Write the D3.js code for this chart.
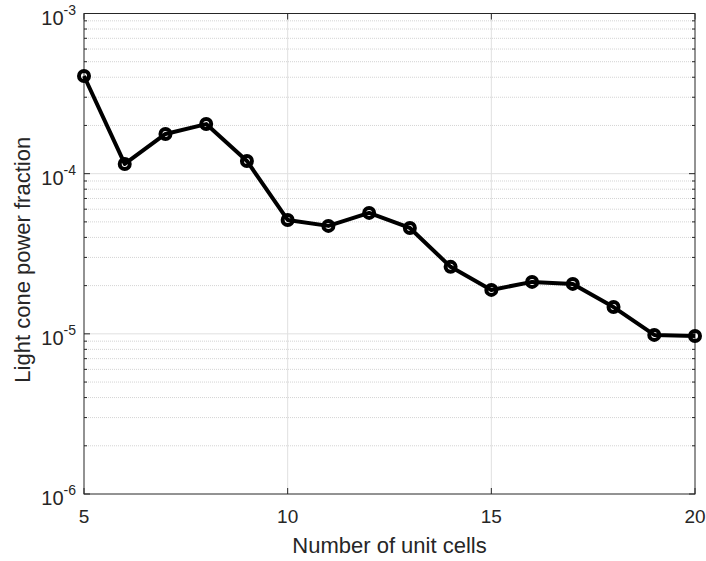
<!DOCTYPE html>
<html>
<head>
<meta charset="utf-8">
<script src="https://cdn.jsdelivr.net/npm/d3@7"></script>
<style>
body { margin: 0; background: #fff; }
svg { font-family: "Liberation Sans", Arial, sans-serif; }
</style>
</head>
<body>
<svg width="706" height="561"></svg>
<script>
// data
var cells = [5, 6, 7, 8, 9, 10, 11, 12, 13, 14, 15, 16, 17, 18, 19, 20];
var fraction = [4.07e-4, 1.15e-4, 1.77e-4, 2.04e-4, 1.20e-4, 5.14e-5, 4.72e-5, 5.69e-5,
                4.58e-5, 2.62e-5, 1.88e-5, 2.11e-5, 2.05e-5, 1.47e-5, 9.85e-6, 9.7e-6];
var xTicks = [5, 10, 15, 20];
var yExps = [-3, -4, -5, -6];

var svg = d3.select('svg');
var pLeft = 84, pRight = 695, pTop = 13.5, pBottom = 494;

var xScale = d3.scaleLinear().domain([5, 20]).range([pLeft, pRight]);
var yScale = d3.scaleLog().domain([1e-6, 1e-3]).range([pBottom, pTop]);

var chartG = svg.append('g');

// minor grid (dotted)
var minors = [];
[-6, -5, -4].forEach(function(e) {
    for (var k = 2; k <= 9; k++) minors.push(k * Math.pow(10, e));
});
chartG.selectAll('.minor')
    .data(minors)
    .enter().append('line')
    .attr('x1', pLeft).attr('x2', pRight)
    .attr('y1', function(d) { return yScale(d); })
    .attr('y2', function(d) { return yScale(d); })
    .style('stroke', '#d4d4d4')
    .style('stroke-width', 1)
    .style('stroke-dasharray', '1,1');

// major grid
chartG.selectAll('.gx')
    .data(xTicks.slice(1, 3))
    .enter().append('line')
    .attr('x1', function(d) { return xScale(d); })
    .attr('x2', function(d) { return xScale(d); })
    .attr('y1', pTop).attr('y2', pBottom)
    .style('stroke', '#e0e0e0');
chartG.selectAll('.gy')
    .data([-5, -4])
    .enter().append('line')
    .attr('x1', pLeft).attr('x2', pRight)
    .attr('y1', function(d) { return yScale(Math.pow(10, d)); })
    .attr('y2', function(d) { return yScale(Math.pow(10, d)); })
    .style('stroke', '#e0e0e0');

// tick marks inside, on all four sides
var tickColor = '#262626';
var allY = minors.concat(yExps.map(function(e) { return Math.pow(10, e); }));
allY.forEach(function(v) {
    var len = minors.indexOf(v) >= 0 ? 3 : 6;
    [[pLeft, pLeft + len], [pRight, pRight - len]].forEach(function(p) {
        chartG.append('line')
            .attr('x1', p[0]).attr('x2', p[1])
            .attr('y1', yScale(v)).attr('y2', yScale(v))
            .style('stroke', tickColor);
    });
});
xTicks.forEach(function(v) {
    [[pBottom, pBottom - 6], [pTop, pTop + 6]].forEach(function(p) {
        chartG.append('line')
            .attr('x1', xScale(v)).attr('x2', xScale(v))
            .attr('y1', p[0]).attr('y2', p[1])
            .style('stroke', tickColor);
    });
});

// box
chartG.append('rect')
    .attr('x', pLeft).attr('y', pTop)
    .attr('width', pRight - pLeft).attr('height', pBottom - pTop)
    .style('fill', 'none')
    .style('stroke', tickColor)
    .style('stroke-width', 1);

// x tick labels
chartG.selectAll('.xl')
    .data(xTicks)
    .enter().append('text')
    .attr('x', function(d) { return xScale(d); })
    .attr('y', pBottom + 29)
    .attr('text-anchor', 'middle')
    .style('font-size', '19px')
    .style('fill', '#262626')
    .text(function(d) { return d; });

// y tick labels 10^n
var yl = chartG.selectAll('.yl')
    .data(yExps)
    .enter().append('text')
    .attr('x', pLeft - 8)
    .attr('y', function(d) { return yScale(Math.pow(10, d)) + 11; })
    .attr('text-anchor', 'end')
    .style('font-size', '20px')
    .style('fill', '#262626');
yl.append('tspan').text('10');
yl.append('tspan')
    .attr('dy', -10)
    .style('font-size', '14px')
    .text(function(d) { return '-' + Math.abs(d); });

// axis titles
svg.append('text')
    .attr('x', (pLeft + pRight) / 2)
    .attr('y', 553)
    .attr('text-anchor', 'middle')
    .style('font-size', '22px')
    .style('fill', '#262626')
    .text('Number of unit cells');
svg.append('text')
    .attr('transform', 'translate(30,' + ((pTop + pBottom) / 2 + 6) + ') rotate(-90)')
    .attr('text-anchor', 'middle')
    .style('font-size', '22px')
    .style('fill', '#262626')
    .text('Light cone power fraction');

// line + markers
var pts = cells.map(function(c, i) { return [c, fraction[i]]; });
var line = d3.line()
    .x(function(d) { return xScale(d[0]); })
    .y(function(d) { return yScale(d[1]); });
chartG.append('path')
    .datum(pts)
    .attr('d', line)
    .style('fill', 'none')
    .style('stroke', '#000')
    .style('stroke-width', 4)
    .style('stroke-linejoin', 'round');
chartG.selectAll('.dot')
    .data(pts)
    .enter().append('circle')
    .attr('cx', function(d) { return xScale(d[0]); })
    .attr('cy', function(d) { return yScale(d[1]); })
    .attr('r', 5)
    .style('fill', 'none')
    .style('stroke', '#000')
    .style('stroke-width', 4);
</script>
</body>
</html>
